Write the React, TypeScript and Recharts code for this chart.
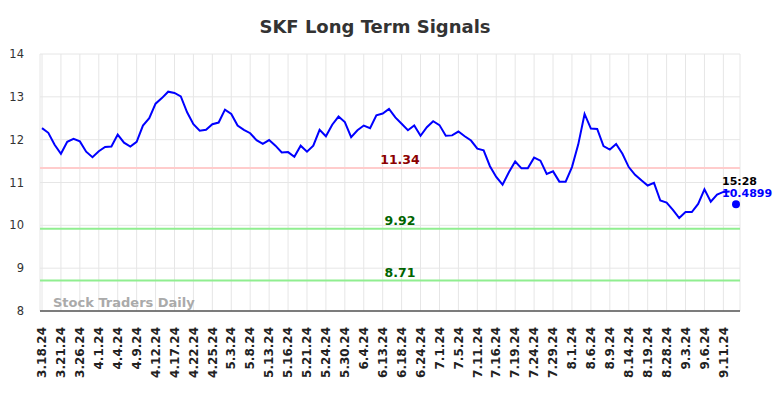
import React from "react";
import {
  ComposedChart,
  Line,
  XAxis,
  YAxis,
  CartesianGrid,
  ReferenceLine,
} from "recharts";

const tickLabels = [
  "3.18.24", "3.21.24", "3.26.24", "4.1.24", "4.4.24", "4.9.24", "4.12.24",
  "4.17.24", "4.22.24", "4.25.24", "5.3.24", "5.8.24", "5.13.24", "5.16.24",
  "5.21.24", "5.24.24", "5.30.24", "6.4.24", "6.13.24", "6.18.24", "6.24.24",
  "7.1.24", "7.5.24", "7.11.24", "7.16.24", "7.19.24", "7.24.24", "7.29.24",
  "8.1.24", "8.6.24", "8.9.24", "8.14.24", "8.19.24", "8.28.24", "9.3.24",
  "9.6.24", "9.11.24",
];

const prices = [
  12.27, 12.16, 11.88, 11.67, 11.95, 12.02, 11.96, 11.72, 11.59, 11.73,
  11.83, 11.84, 12.12, 11.93, 11.84, 11.95, 12.33, 12.5, 12.84, 12.97,
  13.12, 13.09, 13.01, 12.64, 12.36, 12.21, 12.23, 12.36, 12.4, 12.7,
  12.6, 12.33, 12.23, 12.15, 11.99, 11.9, 11.99, 11.86, 11.7, 11.71,
  11.6, 11.86, 11.72, 11.86, 12.23, 12.08, 12.35, 12.54, 12.41, 12.06,
  12.22, 12.33, 12.27, 12.57, 12.61, 12.72, 12.52, 12.37, 12.22, 12.33,
  12.09, 12.29, 12.43, 12.34, 12.09, 12.1, 12.19, 12.08, 11.98, 11.79,
  11.75, 11.38, 11.13, 10.95, 11.24, 11.49, 11.33, 11.33, 11.58, 11.51,
  11.2, 11.26, 11.02, 11.02, 11.36, 11.89, 12.6, 12.26, 12.25, 11.85,
  11.77, 11.9, 11.67, 11.36, 11.18, 11.05, 10.93, 10.99, 10.58, 10.53,
  10.36, 10.17, 10.31, 10.31, 10.5, 10.84, 10.55, 10.72, 10.78, 10.79,
];

const lastValue = 10.4899;
const lastTime = "15:28";
const lastIndex = 110;

const signalLevels = [
  { value: 11.34, line: "#ffcccc", text: "#8b0000" },
  { value: 9.92, line: "#90ee90", text: "#006400" },
  { value: 8.71, line: "#90ee90", text: "#006400" },
];

const yTicks = [8, 9, 10, 11, 12, 13, 14];

const data = Array.from({ length: lastIndex + 1 }, (_, i) => ({
  i,
  price: i < prices.length ? prices[i] : null,
  last: i === lastIndex ? lastValue : null,
}));

const xTicks = tickLabels.map((_, k) => k * 3);

const FONT = "DejaVu Sans";

const XTick = (props: any) => {
  const { x, y, payload } = props;
  const label = tickLabels[Math.round(payload.value / 3)] ?? "";
  return (
    <text
      x={x}
      y={y}
      transform={`rotate(-90, ${x}, ${y})`}
      textAnchor="end"
      dy="0.35em"
      fontFamily={FONT}
      fontWeight="bold"
      fontSize={12}
      fill="#222"
    >
      {label}
    </text>
  );
};

const LastDot = (props: any) => {
  const { cx, cy, value, index } = props;
  if (value == null || cx == null || cy == null) return <g key={`d${index}`} />;
  return (
    <g key={`d${index}`}>
      <circle cx={cx} cy={cy} r={4} fill="#0000ff" />
      <text
        x={cx - 14}
        y={cy - 19}
        fontFamily={FONT}
        fontWeight="bold"
        fontSize={11}
        fill="#000"
      >
        {lastTime}
      </text>
      <text
        x={cx - 14}
        y={cy - 7}
        fontFamily={FONT}
        fontWeight="bold"
        fontSize={11}
        fill="#0000ff"
      >
        {lastValue.toFixed(4)}
      </text>
    </g>
  );
};

const makeRefLabel = (value: number, color: string) => (props: any) => {
  const vb = props.viewBox || {};
  const cx = (vb.x ?? 40) + (vb.width ?? 700) / 2 + 10;
  return (
    <text
      x={cx}
      y={(vb.y ?? 0) - 4}
      textAnchor="middle"
      fontFamily={FONT}
      fontWeight="bold"
      fontSize={12.5}
      fill={color}
    >
      {value.toFixed(2)}
    </text>
  );
};

export default function App() {
  return (
    <div style={{ position: "absolute", left: 0, top: 0, width: 784, height: 398, background: "#fff" }}>
      <ComposedChart
        width={784}
        height={398}
        data={data}
        margin={{ top: 54, right: 44, left: 0, bottom: 0 }}
      >
        <CartesianGrid stroke="#e6e6e6" strokeWidth={1} />
        <XAxis
          dataKey="i"
          type="number"
          domain={[0, lastIndex]}
          ticks={xTicks}
          interval={0}
          height={87}
          tickSize={0}
          tickMargin={16}
          padding={{ left: 2, right: 4 }}
          axisLine={{ stroke: "#555", strokeWidth: 1.5 }}
          tickLine={false}
          tick={<XTick />}
        />
        <YAxis
          type="number"
          domain={[8, 14]}
          ticks={yTicks}
          width={40}
          axisLine={false}
          tickLine={false}
          tickSize={0}
          tickMargin={16}
          tick={{ fontFamily: FONT, fontSize: 11.5, fill: "#333" }}
        />
        {signalLevels.map((s) => (
          <ReferenceLine
            key={s.value}
            y={s.value}
            stroke={s.line}
            strokeWidth={2}
            label={makeRefLabel(s.value, s.text)}
          />
        ))}
        <Line
          type="linear"
          dataKey="price"
          stroke="#0000ff"
          strokeWidth={2}
          dot={false}
          activeDot={false}
          isAnimationActive={false}
        />
        <Line
          type="linear"
          dataKey="last"
          stroke="none"
          dot={<LastDot />}
          activeDot={false}
          isAnimationActive={false}
        />
      </ComposedChart>
      <svg
        width={784}
        height={398}
        style={{ position: "absolute", left: 0, top: 0, pointerEvents: "none" }}
      >
        <text
          x={375}
          y={33}
          textAnchor="middle"
          fontFamily={FONT}
          fontWeight="bold"
          fontSize={18}
          fill="#333"
        >
          SKF Long Term Signals
        </text>
        <text
          x={53}
          y={307}
          fontFamily={FONT}
          fontWeight="bold"
          fontSize={13}
          fill="#aaaaaa"
        >
          Stock Traders Daily
        </text>
      </svg>
    </div>
  );
}
